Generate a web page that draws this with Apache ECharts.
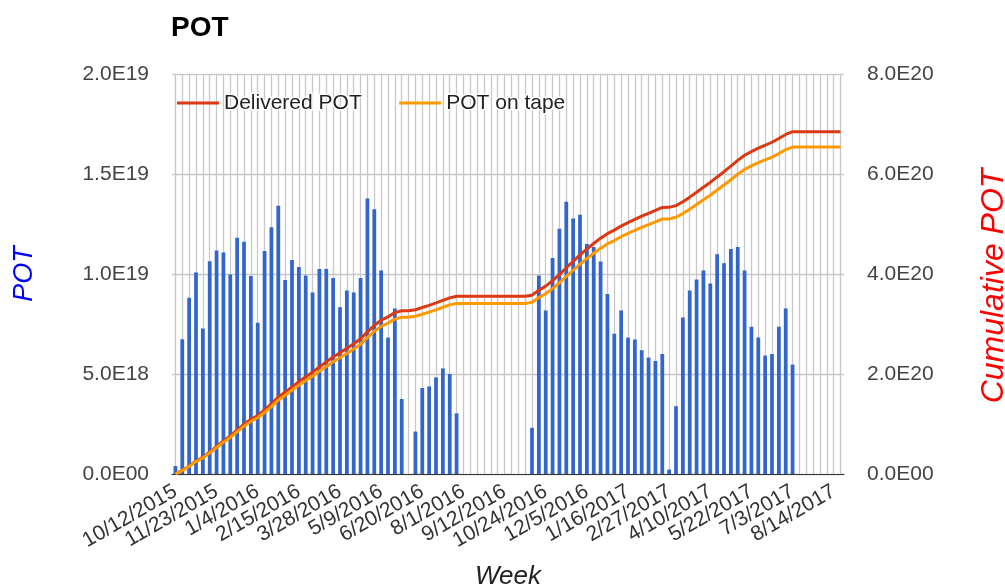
<!DOCTYPE html>
<html><head><meta charset="utf-8">
<script src="https://cdn.jsdelivr.net/npm/echarts@6/dist/echarts.min.js"></script>
<style>html,body{margin:0;padding:0;background:#fff}#c{width:1005px;height:588px}</style>
</head><body><div id="c"></div>
<script>
const weeks = ['10/12/2015','10/19/2015','10/26/2015','11/2/2015','11/9/2015','11/16/2015','11/23/2015','11/30/2015','12/7/2015','12/14/2015','12/21/2015','12/28/2015',
'1/4/2016','1/11/2016','1/18/2016','1/25/2016','2/1/2016','2/8/2016','2/15/2016','2/22/2016','2/29/2016','3/7/2016','3/14/2016','3/21/2016','3/28/2016','4/4/2016','4/11/2016','4/18/2016','4/25/2016','5/2/2016','5/9/2016','5/16/2016','5/23/2016','5/30/2016','6/6/2016','6/13/2016','6/20/2016','6/27/2016','7/4/2016','7/11/2016','7/18/2016','7/25/2016','8/1/2016','8/8/2016','8/15/2016','8/22/2016','8/29/2016','9/5/2016','9/12/2016','9/19/2016','9/26/2016','10/3/2016','10/10/2016','10/17/2016','10/24/2016','10/31/2016','11/7/2016','11/14/2016','11/21/2016','11/28/2016','12/5/2016','12/12/2016','12/19/2016','12/26/2016',
'1/2/2017','1/9/2017','1/16/2017','1/23/2017','1/30/2017','2/6/2017','2/13/2017','2/20/2017','2/27/2017','3/6/2017','3/13/2017','3/20/2017','3/27/2017','4/3/2017','4/10/2017','4/17/2017','4/24/2017','5/1/2017','5/8/2017','5/15/2017','5/22/2017','5/29/2017','6/5/2017','6/12/2017','6/19/2017','6/26/2017','7/3/2017','7/10/2017','7/17/2017','7/24/2017','7/31/2017','8/7/2017','8/14/2017','8/21/2017'];

// weekly POT, in units of 1E18
const weeklyPotE18 = [
0.40, 6.74, 8.81, 10.08, 7.27, 10.64, 11.17, 11.07, 9.98, 11.81,
11.61, 9.90, 7.56, 11.15, 12.34, 13.41, 9.70, 10.70, 10.35, 9.92,
9.08, 10.25, 10.25, 9.80, 8.34, 9.18, 9.08, 9.80, 13.78, 13.24,
10.17, 6.82, 8.28, 3.75, 0, 2.12, 4.30, 4.38, 4.83, 5.28,
5.00, 3.03, 0, 0, 0, 0, 0, 0, 0, 0,
0, 0, 2.31, 9.92, 8.18, 10.80, 12.26, 13.61, 12.78, 12.96,
11.50, 11.35, 10.62, 9.00, 7.01, 8.18, 6.82, 6.72, 6.19, 5.82,
5.65, 6.00, 0.22, 3.39, 7.83, 9.18, 9.72, 10.17, 9.53, 10.99,
10.54, 11.25, 11.35, 10.17, 7.36, 6.82, 5.92, 6.00, 7.36, 8.28,
5.47, 0, 0, 0, 0, 0, 0, 0];

// cumulative delivered POT, units of 1E18
const deliveredCumE18 = [
0.4, 7.1, 16.0, 26.0, 33.3, 43.9, 55.1, 66.2, 76.2, 88.0,
99.6, 109.5, 117.0, 128.2, 140.5, 153.9, 163.6, 174.3, 184.7, 194.6,
203.7, 213.9, 224.2, 234.0, 242.3, 251.5, 260.6, 270.4, 284.2, 297.4,
307.6, 314.4, 322.7, 326.4, 326.4, 328.6, 332.9, 337.2, 342.1, 347.3,
352.3, 355.4, 355.4, 355.4, 355.4, 355.4, 355.4, 355.4, 355.4, 355.4,
355.4, 355.4, 357.7, 367.6, 375.8, 386.6, 398.8, 412.5, 425.2, 438.2,
449.7, 461.0, 471.7, 480.7, 487.7, 495.9, 502.7, 509.4, 515.6, 521.4,
527.1, 533.1, 533.3, 536.7, 544.5, 553.7, 563.4, 573.6, 583.1, 594.1,
604.6, 615.9, 627.2, 637.4, 644.8, 651.6, 657.5, 663.5, 670.9, 679.1,
684.6, 684.6, 684.6, 684.6, 684.6, 684.6, 684.6, 684.6];

// cumulative POT on tape, units of 1E18
const onTapeCumE18 = [
0.4, 6.9, 15.3, 25.0, 32.0, 42.2, 52.9, 63.5, 73.1, 84.5,
95.6, 105.1, 112.4, 123.1, 134.9, 147.8, 157.1, 167.4, 177.3, 186.8,
195.5, 205.4, 215.2, 224.6, 232.6, 241.5, 250.2, 259.6, 272.8, 285.5,
295.3, 301.8, 309.8, 313.4, 313.4, 315.4, 319.5, 323.7, 328.4, 333.5,
338.3, 341.2, 341.2, 341.2, 341.2, 341.2, 341.2, 341.2, 341.2, 341.2,
341.2, 341.2, 343.4, 352.8, 360.6, 370.8, 382.5, 395.4, 407.5, 419.8,
430.8, 441.6, 451.6, 460.2, 466.9, 474.6, 481.1, 487.5, 493.4, 498.9,
504.3, 510.0, 510.2, 513.4, 520.8, 529.6, 538.8, 548.4, 557.5, 567.9,
578.0, 588.6, 599.4, 609.1, 616.1, 622.6, 628.2, 633.9, 640.9, 648.7,
653.9, 653.9, 653.9, 653.9, 653.9, 653.9, 653.9, 653.9];

const leftTickLabels = ['0.0E00', '5.0E18', '1.0E19', '1.5E19', '2.0E19'];
const rightTickLabels = ['0.0E00', '2.0E20', '4.0E20', '6.0E20', '8.0E20'];
const labelEvery = 6; // a date label every 6 weeks

const chart = echarts.init(document.getElementById('c'), null, {renderer: 'canvas'});
const FONT = 'Liberation Sans, Arial, sans-serif';
chart.setOption({
  animation: false,
  textStyle: {fontFamily: FONT},
  title: {
    text: 'POT', left: 166, top: 9,
    textStyle: {fontFamily: FONT, fontSize: 28, fontWeight: 'bold', color: '#000'}
  },
  legend: {
    data: ['Delivered POT', 'POT on tape'],
    left: 172, top: 86,
    icon: 'rect', itemWidth: 42, itemHeight: 3, itemGap: 36,
    textStyle: {fontFamily: FONT, fontSize: 21, color: '#222', textBorderColor: '#fff', textBorderWidth: 3}
  },
  grid: {left: 172, right: 161, top: 74, bottom: 114, containLabel: false, outerBoundsMode: 'none'},
  xAxis: {
    type: 'category', data: weeks, boundaryGap: true,
    name: 'Week', nameLocation: 'middle', nameGap: 90,
    nameTextStyle: {fontFamily: FONT, fontSize: 26, fontStyle: 'italic', color: '#222'},
    axisLine: {show: true, lineStyle: {color: '#333', width: 1}},
    axisTick: {show: false},
    axisLabel: {interval: 0, rotate: 30, margin: 16, fontSize: 21, color: '#333', fontFamily: FONT,
      hideOverlap: false, showMinLabel: true, showMaxLabel: false,
      formatter: (v, i) => (i % labelEvery === 0 ? v : '')},
    splitLine: {show: true, interval: 0, alignWithLabel: true, lineStyle: {color: '#c8c8c8', width: 1.3}}
  },
  yAxis: [{
    type: 'value', min: 0, max: 20, interval: 5,
    name: 'POT', nameLocation: 'middle', nameGap: 134, nameRotate: 90,
    nameTextStyle: {fontFamily: FONT, fontSize: 27, fontStyle: 'italic', color: '#0000ff'},
    axisLine: {show: false}, axisTick: {show: false},
    axisLabel: {margin: 23, fontSize: 21, color: '#444', fontFamily: FONT,
      formatter: v => leftTickLabels[Math.round(v / 5)]},
    splitLine: {show: true, lineStyle: {color: '#c8c8c8', width: 1.3}}
  }, {
    type: 'value', min: 0, max: 800, interval: 200, position: 'right',
    name: 'Cumulative POT', nameLocation: 'middle', nameGap: 134, nameRotate: 90,
    nameTextStyle: {fontFamily: FONT, fontSize: 32, fontStyle: 'italic', color: '#ff0000', padding: [0, 24, 0, 0]},
    axisLine: {show: false}, axisTick: {show: false},
    axisLabel: {margin: 23, fontSize: 21, color: '#444', fontFamily: FONT,
      formatter: v => rightTickLabels[Math.round(v / 200)]},
    splitLine: {show: false}
  }],
  series: [{
    name: 'POT', type: 'bar', yAxisIndex: 0, data: weeklyPotE18,
    barWidth: '55%', itemStyle: {color: '#3366cc'}
  }, {
    name: 'Delivered POT', type: 'line', yAxisIndex: 1, data: deliveredCumE18,
    symbol: 'none', lineStyle: {color: '#dc3912', width: 3}, itemStyle: {color: '#dc3912'}, z: 3
  }, {
    name: 'POT on tape', type: 'line', yAxisIndex: 1, data: onTapeCumE18,
    symbol: 'none', lineStyle: {color: '#ff9900', width: 3}, itemStyle: {color: '#ff9900'}, z: 3
  }]
});
</script>
</body></html>
